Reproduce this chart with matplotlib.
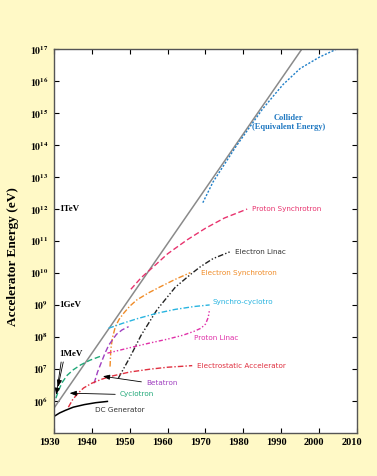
import math
import matplotlib.pyplot as plt
import matplotlib.transforms as mtransforms
from matplotlib.ticker import FixedLocator, FuncFormatter

plt.rcParams["mathtext.fontset"] = "stix"

trend_years = [1930, 1995.4]
trend_log = [5.77, 17.0]

collider_years = [1969.3, 1972, 1975, 1978, 1982, 1985, 1988, 1990.5, 1995, 2000, 2004.5]
collider_log = [12.2, 12.85, 13.4, 13.95, 14.62, 15.12, 15.55, 15.9, 16.4, 16.75, 17.0]

psync_years = [1950.3, 1953, 1956.3, 1960, 1965.2, 1970, 1975, 1981.0]
psync_log = [9.49, 9.85, 10.2, 10.6, 11.04, 11.4, 11.72, 12.0]

elinac_years = [1947.0, 1950, 1953, 1957.2, 1962, 1966, 1968.7, 1972, 1976.4]
elinac_log = [6.71, 7.35, 8.05, 8.85, 9.55, 9.95, 10.2, 10.45, 10.66]

esync_years = [1944.8, 1944.9, 1945.0, 1945.4, 1946.2, 1947.2, 1948.4, 1950, 1951.9, 1955, 1958.1, 1962, 1966.0]
esync_log = [7.07, 7.3, 7.6, 7.95, 8.32, 8.55, 8.74, 8.96, 9.16, 9.38, 9.57, 9.8, 10.01]

scyc_years = [1944.4, 1948, 1952, 1957.2, 1962, 1967, 1971.1]
scyc_log = [8.27, 8.42, 8.57, 8.74, 8.86, 8.95, 9.0]

plinac_years = [1944.1, 1950, 1955, 1960, 1964, 1966.9, 1968.8, 1970.0, 1970.7, 1971.1]
plinac_log = [7.49, 7.66, 7.8, 7.93, 8.05, 8.17, 8.27, 8.4, 8.6, 8.87]

betatron_years = [1940.6, 1941.5, 1942.5, 1943.5, 1944.5, 1946.5, 1948, 1949.7]
betatron_log = [6.55, 6.9, 7.2, 7.5, 7.75, 8.08, 8.22, 8.32]

cyclo_years = [1930.5, 1931.3, 1932.2, 1933.5, 1935.1, 1937, 1939.5, 1942.2]
cyclo_log = [6.08, 6.35, 6.58, 6.8, 6.97, 7.12, 7.27, 7.39]

estatic_years = [1933.8, 1935, 1936.5, 1937.8, 1940, 1942.5, 1944.8, 1950, 1955.4, 1960, 1966.5]
estatic_log = [5.8, 6.05, 6.25, 6.4, 6.55, 6.67, 6.76, 6.9, 6.99, 7.05, 7.1]

dc_years = [1930, 1931.5, 1933, 1935.1, 1938, 1941, 1944.1]
dc_log = [5.51, 5.62, 5.7, 5.8, 5.88, 5.94, 5.98]

year_ticks = [1930, 1940, 1950, 1960, 1970, 1980, 1990, 2000, 2010]
energy_exps = list(range(6, 18))

bg = "#fff9c6"
fig = plt.figure(figsize=(3.77, 4.76), dpi=100, facecolor=bg)
ax = fig.add_axes([0.1432, 0.0909, 0.8037, 0.8055])
ax.set_facecolor("white")


def curve(xs, ys, color, ls, lw=1.0):
    ax.plot(xs, [10 ** v for v in ys], color=color, linestyle=ls, linewidth=lw)


curve(trend_years, trend_log, "#8a8a8a", "-", 1.1)
curve(collider_years, collider_log, "#1f7fc8", (0, (1.5, 1.2)))
curve(psync_years, psync_log, "#e8336e", (0, (4, 2)))
curve(elinac_years, elinac_log, "#222222", (0, (4, 1.5, 1, 1.5, 1, 1.5)))
curve(esync_years, esync_log, "#f08c28", (0, (4, 1.5, 1, 1.5)))
curve(scyc_years, scyc_log, "#28b4e0", (0, (4, 1.5, 1, 1.5)))
curve(plinac_years, plinac_log, "#e030a8", (0, (3, 1.5, 1, 1.5, 1, 1.5)))
curve(betatron_years, betatron_log, "#a040c0", (0, (4, 2)))
curve(cyclo_years, cyclo_log, "#20a878", (0, (4, 2)))
curve(estatic_years, estatic_log, "#e03040", (0, (4, 1.5, 1, 1.5)))
curve(dc_years, dc_log, "black", "-", 1.1)

# Подписи кривых
lab = dict(fontsize=5.2, family="DejaVu Sans", va="center", ha="left")
ax.text(1982.3, 10 ** 12.01, "Proton Synchrotron", color="#e8336e", **lab)
ax.text(1977.9, 10 ** 10.66, "Electron Linac", color="#333333", **lab)
ax.text(1968.7, 10 ** 10.0, "Electron Synchrotron", color="#f08c28", **lab)
ax.text(1971.9, 10 ** 9.1, "Synchro-cyclotro", color="#28b4e0", **lab)
ax.text(1966.9, 10 ** 7.96, "Proton Linac", color="#e030a8", **lab)
ax.text(1967.8, 10 ** 7.1, "Electrostatic Accelerator", color="#e03040", **lab)
ax.text(1954.3, 10 ** 6.55, "Betatron", color="#a040c0", **lab)
ax.text(1947.3, 10 ** 6.22, "Cyclotron", color="#20a878", **lab)
ax.text(1940.9, 10 ** 5.72, "DC Generator", color="#333333", **lab)

ax.text(1992.0, 10 ** 14.71, "Collider\n(Equivalent Energy)", color="#1f78c1",
        fontsize=6, family="Liberation Serif", fontweight="bold",
        ha="center", va="center", linespacing=1.1)

serif = dict(fontsize=6.5, family="Liberation Serif", fontweight="bold", va="center", ha="left")
ax.text(1931.4, 10 ** 7.46, "1MeV", **serif)
for e, name in [(9, "1GeV"), (12, "1TeV")]:
    ax.text(1931.4, 10 ** e, name, **serif)
    ax.plot([1930, 1931], [10 ** e, 10 ** e], color="black", linewidth=0.6)

# Стрелки
arr = dict(arrowstyle="-|>,head_length=0.4,head_width=0.15", color="black", lw=0.6)
ax.annotate("", xy=(1942.2, 10 ** 6.78), xytext=(1953.8, 10 ** 6.58), arrowprops=arr)
ax.annotate("", xy=(1933.4, 10 ** 6.24), xytext=(1946.9, 10 ** 6.2), arrowprops=arr)
ax.annotate("", xy=(1930.5, 10 ** 6.1), xytext=(1932.0, 10 ** 7.3), arrowprops=arr)
ax.annotate("", xy=(1930.9, 10 ** 6.35), xytext=(1932.6, 10 ** 7.3), arrowprops=arr)

ax.set_yscale("log")
ax.set_xlim(1930, 2010)
ax.set_ylim(1e5, 1e17)

ax.xaxis.set_major_locator(FixedLocator(year_ticks))
ax.yaxis.set_major_locator(FixedLocator([10.0 ** e for e in energy_exps]))
ax.yaxis.set_minor_locator(FixedLocator([]))
ax.yaxis.set_major_formatter(FuncFormatter(
    lambda v, p: r"$\mathbf{10}^{\mathbf{%d}}$" % round(math.log10(v))))
ax.tick_params(axis="both", which="both", direction="in", length=3.5, width=0.8,
               top=True, right=True, labelsize=7.5, pad=4)
for t in ax.get_xticklabels():
    t.set_fontfamily("Liberation Serif")
    t.set_fontweight("bold")
for t in ax.get_yticklabels():
    t.set_fontsize(7.0)

offset = mtransforms.ScaledTranslation(-5 / 100, 0, fig.dpi_scale_trans)
for t in ax.get_xticklabels():
    t.set_transform(t.get_transform() + offset)

for s in ax.spines.values():
    s.set_color("#555555")
    s.set_linewidth(1.0)

fig.text(0.035, 0.46, "Accelerator Energy (eV)", rotation=90, ha="center", va="center",
         fontsize=9.5, family="Liberation Serif", fontweight="bold")

fig.savefig("out.png", dpi=100, facecolor=bg)
